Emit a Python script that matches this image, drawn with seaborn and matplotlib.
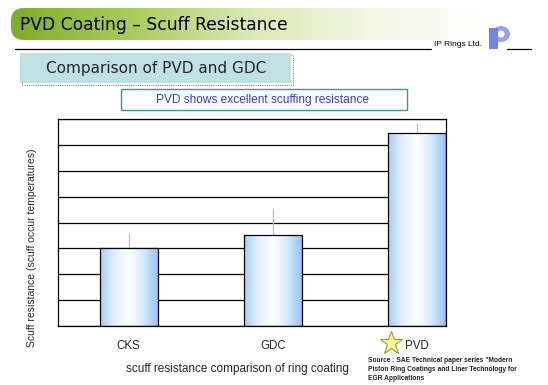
import numpy as np
import pandas as pd
import matplotlib
matplotlib.use("Agg")
import matplotlib.pyplot as plt
import seaborn as sns
from matplotlib.colors import LinearSegmentedColormap
from matplotlib.patches import FancyBboxPatch, Rectangle, Ellipse

# data
coatings = ["CKS", "GDC", "PVD"]
scuff_resistance = [3.0, 3.5, 7.45]
upper_spread = [0.6, 1.05, 0.4]

title = "PVD Coating \u2013 Scuff Resistance"
subtitle = "Comparison of PVD and GDC"
note = "PVD shows excellent scuffing resistance"
x_label = "scuff resistance comparison of ring coating"
y_label = "Scuff resistance (scuff occur temperatures)"
source = ("Source : SAE Technical paper series \"Modern\n"
          "Piston Ring Coatings and Liner Technology for\n"
          "EGR Applications")

df = pd.DataFrame({"coating": coatings, "value": scuff_resistance, "err": upper_spread})

sns.set_style("white")
plt.rcParams["font.family"] = ["Liberation Sans", "DejaVu Sans"]

W, H = 548, 385
fig = plt.figure(figsize=(W / 100, H / 100), dpi=100)

# overlay for slide decorations, pixel coordinates
deco = fig.add_axes([0, 0, 1, 1], zorder=0)
deco.set_xlim(0, W)
deco.set_ylim(H, 0)
deco.axis("off")

# green header banner with gradient
banner_cmap = LinearSegmentedColormap.from_list(
    "banner", ["#7dae27", "#a9cc5c", "#dbe9b4", "#f3f7e4", "#ffffff"])
banner = FancyBboxPatch((11, 8), 480, 32, boxstyle="round,pad=0,rounding_size=13",
                        facecolor="none", edgecolor="none")
deco.add_patch(banner)
grad = np.linspace(0, 1, 256).reshape(1, -1)
im = deco.imshow(grad, cmap=banner_cmap, extent=(11, 491, 40, 8), aspect="auto")
im.set_clip_path(banner)
deco.text(20, 24.5, title, fontsize=12.3, family="DejaVu Sans", va="center", ha="left",
          color="black", weight="medium")

# rule under banner, company name and logo
deco.plot([15, 431], [48.5, 48.5], color="black", lw=0.9)
deco.plot([507, 531], [48.5, 48.5], color="black", lw=0.9)
deco.text(434, 48, "IP Rings Ltd.", fontsize=6, va="bottom", ha="left", color="black")
deco.add_patch(Ellipse((501, 34), 18, 16, facecolor="#9aa4e0", edgecolor="none"))
deco.add_patch(Ellipse((501, 34), 7, 7, facecolor="white", edgecolor="none"))
deco.add_patch(Rectangle((489, 28), 9, 21, facecolor="#6e84ee", edgecolor="none"))

# subtitle box with dotted shadow
deco.add_patch(Rectangle((22, 55), 271, 30, facecolor="none", edgecolor="#888888",
                         lw=0.8, linestyle=(0, (1, 1))))
deco.add_patch(Rectangle((20, 53), 271, 30, facecolor="#bfe1e4", edgecolor="none"))
deco.text(156, 68.5, subtitle, fontsize=11, family="DejaVu Sans", ha="center", va="center")

# note box
deco.add_patch(Rectangle((121, 89), 286, 21, facecolor="white", edgecolor="#3a9890", lw=1))
deco.text(263, 100, note, fontsize=8.6, ha="center", va="center", color="#3b3bc4")

# star next to PVD label and source note
deco.plot([391], [343], marker="*", markersize=17, markerfacecolor="#ffff99",
          markeredgecolor="#999933", markeredgewidth=0.8)
deco.text(368, 357, source, fontsize=4.8, ha="left", va="top", linespacing=1.35, weight="bold",
          color="#222222")

# main chart
ax = fig.add_axes([58 / W, 1 - 326 / H, 388 / W, 207 / H], zorder=1)
sns.barplot(data=df, x="coating", y="value", ax=ax, width=0.4, facecolor="none",
            edgecolor="black", linewidth=0.9, errorbar=None, zorder=3)

bar_cmap = LinearSegmentedColormap.from_list(
    "bar", ["#a6cefa", "#e4f0fe", "#ffffff", "#d8eafd", "#93c3f8"])
bar_grad = np.linspace(0, 1, 256).reshape(1, -1)
for p in ax.patches:
    x0, y0 = p.get_x(), p.get_y()
    w, h = p.get_width(), p.get_height()
    gim = ax.imshow(bar_grad, cmap=bar_cmap, extent=(x0, x0 + w, y0, y0 + h),
                    aspect="auto", zorder=2)
    gim.set_clip_path(p)

ax.vlines(range(len(coatings)), df["value"], df["value"] + df["err"],
          color="#bbbbcc", lw=0.9, zorder=1)

ax.set_xlim(-0.49, 2.2)
ax.set_ylim(0, 8)
ax.set_yticks(np.arange(0, 9, 1))
ax.set_yticklabels([])
ax.yaxis.grid(True, color="black", lw=0.9)
ax.set_axisbelow(True)
ax.tick_params(axis="y", length=0)
ax.tick_params(axis="x", which="major", length=0, pad=10, labelsize=8.3)
ax.set_xticks([0.5, 1.5], minor=True)
ax.tick_params(axis="x", which="minor", direction="in", length=3, width=0.8, color="black")
for s in ax.spines.values():
    s.set_color("black")
    s.set_linewidth(0.9)

ax.set_xlabel(x_label, fontsize=8.5)
ax.xaxis.set_label_coords((237 - 58) / 388, -(363 - 326) / 207)
ax.set_ylabel(y_label, fontsize=7.5)
ax.yaxis.set_label_coords(-(58 - 37) / 388, (326 - 248) / 207)

fig.savefig("out.png", dpi=100)
